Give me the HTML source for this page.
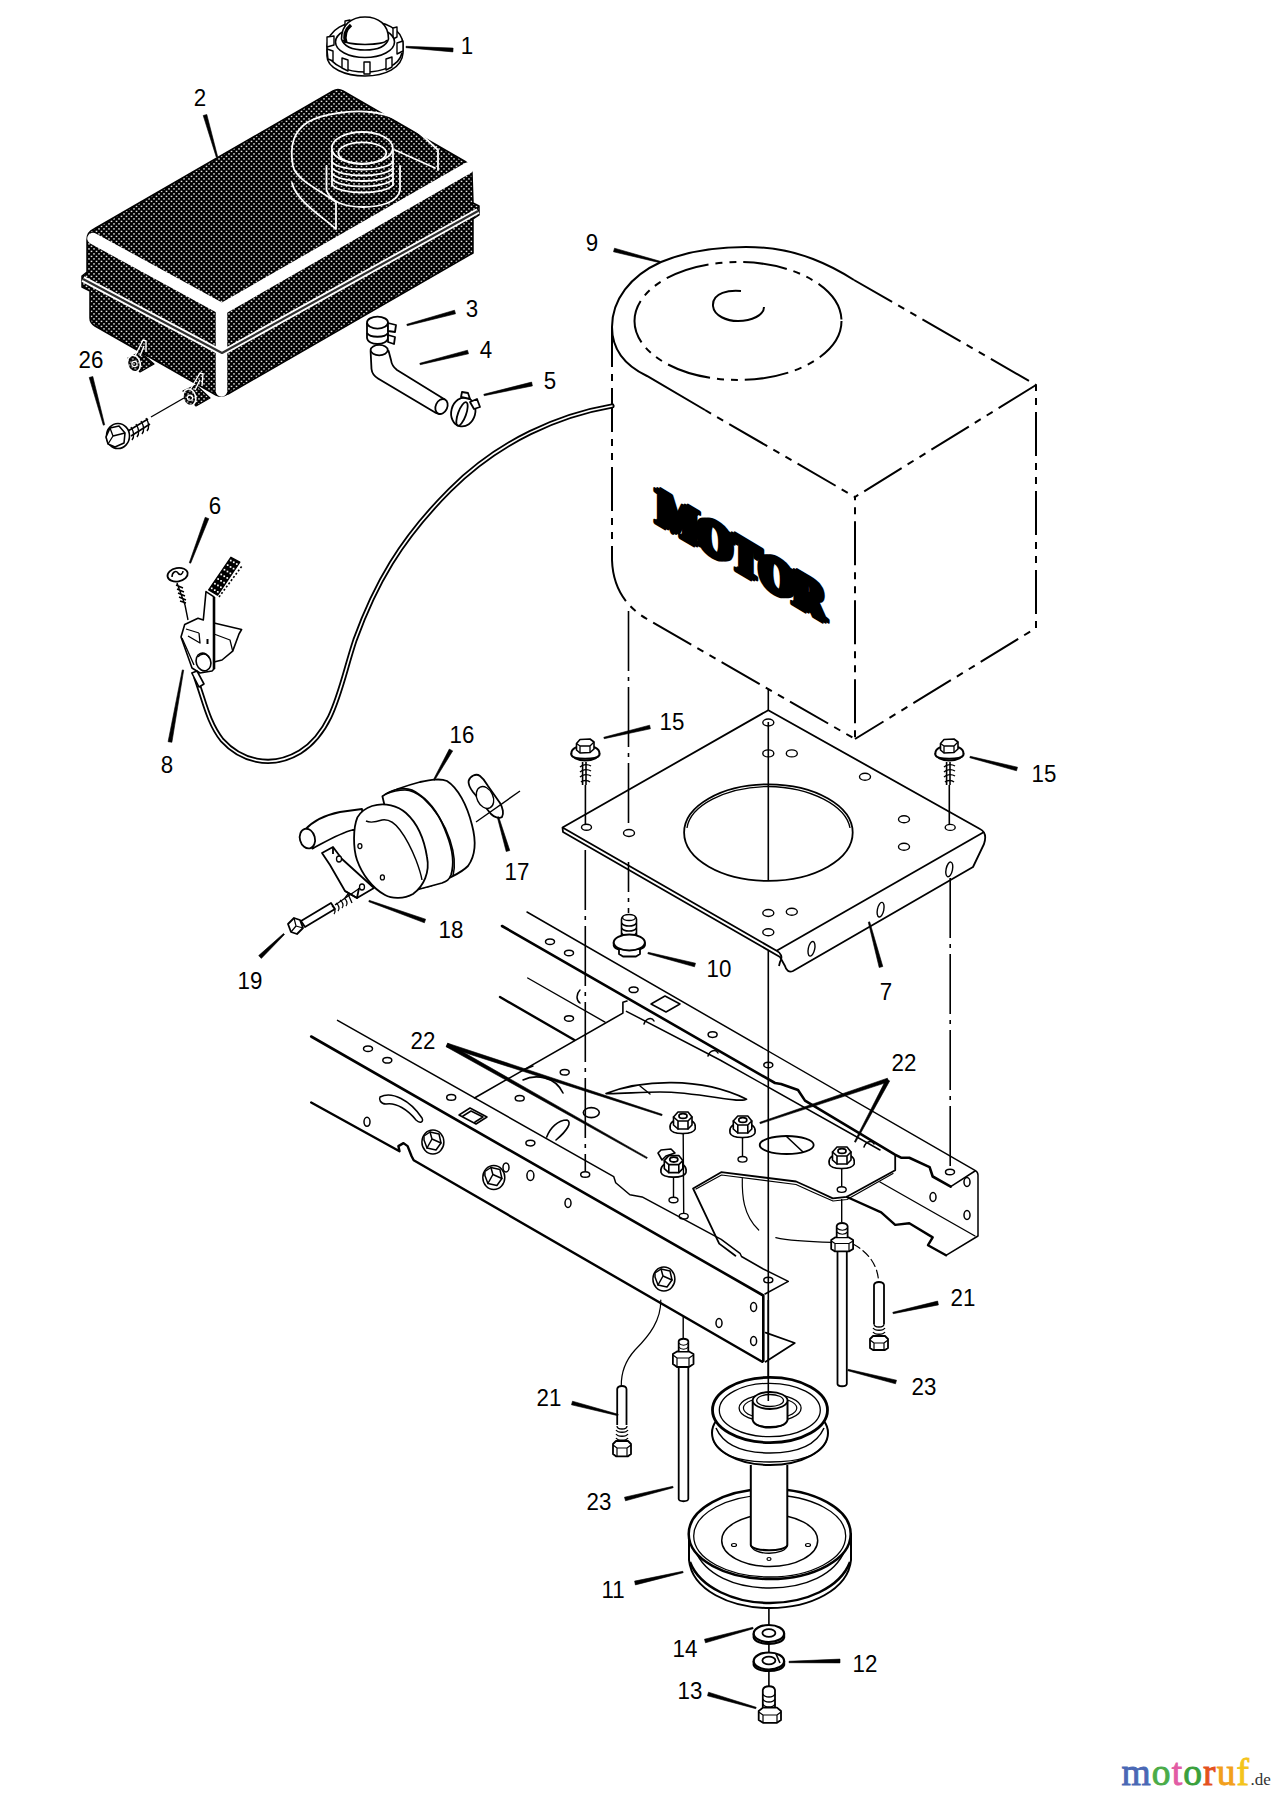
<!DOCTYPE html>
<html><head><meta charset="utf-8">
<style>
html,body{margin:0;padding:0;background:#fff;width:1281px;height:1800px;overflow:hidden}
svg{display:block}
.lb{font-family:"Liberation Sans",sans-serif;font-size:23.5px;fill:#000;text-anchor:middle}
</style></head><body>
<svg width="1281" height="1800" viewBox="0 0 1281 1800">
<rect width="1281" height="1800" fill="#fff"/>
<defs>
<pattern id="ht" width="5" height="5" patternUnits="userSpaceOnUse">
<rect width="5" height="5" fill="#000"/>
<rect x="0.7" y="0.7" width="1.6" height="1.4" fill="#e6e6e6"/>
<rect x="3.2" y="3.2" width="1.6" height="1.4" fill="#e6e6e6"/>
</pattern>
</defs>



<!-- ===== TANK (2) ===== -->
<g id="tank">
<path fill="url(#ht)" stroke="#000" stroke-width="1.5" stroke-linejoin="round" d="M87,240 Q87,232 94,229 L333,91 Q338,88 343,91 L466,162 Q472,166 472,173 L473,203 L479,206 L479,215 L473,219 L473,253 L228,394 Q222,398 216,395 L95,326 Q90,323 90,318 L90,291 L82,287 L82,276 L87,272 Z"/>
<!-- rounded edge highlights -->
<path fill="none" stroke="#fff" stroke-width="11.5" stroke-linejoin="round" stroke-linecap="round" d="M93,238.5 L222,309 L468,168"/>
<path fill="none" stroke="#fff" stroke-width="11.5" stroke-linecap="round" d="M221.5,309 L221.5,391"/>
<!-- seam -->
<path fill="none" stroke="#fff" stroke-width="6" stroke-linejoin="round" d="M83,279 L222,353 L478,211"/>
<path fill="none" stroke="#303030" stroke-width="2.2" stroke-linejoin="round" d="M83,279 L222,353 L478,211"/>
<!-- shroud -->
<g fill="none" stroke="#fff" stroke-width="1.8" stroke-linejoin="round" stroke-linecap="round">
<path d="M335.7,202 C320,190 296,180 293,166 C290,150 292,132 308,122 C322,114 350,110 370,112 C395,114 412,126 425,138 L438,150 L438,170"/>
<path d="M395,150 L435,168"/>
<path d="M292,183 C296,200 320,215 336,229 L336,202"/>
<!-- neck boss -->
<path d="M326.5,166 L326.5,190 C330,202 345,207 363,207 C381,207 398,202 400,190 L400,166"/>
<!-- threads -->
<ellipse cx="362.3" cy="148" rx="30.5" ry="16"/>
<ellipse cx="362.3" cy="153" rx="24" ry="10.6"/>
<path d="M332,150 L332,185 M393,150 L393,185"/>
<path d="M332,162 C340,172 385,172 393,162"/>
<path d="M332,168 C340,178 385,178 393,168"/>
<path d="M332,173.5 C340,183.5 385,183.5 393,173.5"/>
<path d="M332,179 C340,189 385,189 393,179"/>
<path d="M332,185 C340,195 385,195 393,185"/>
</g>
<!-- lugs -->
<g stroke-linejoin="round">
<path fill="url(#ht)" stroke="#000" stroke-width="1.2" d="M128,358 L140,352 L154,364 L140,372 Z"/>
<path fill="none" stroke="#fff" stroke-width="1.4" d="M135,356 L143,340 L146,341 L146,352 M140,356 L144,346"/>
<ellipse cx="133.9" cy="363.6" rx="6.3" ry="8.4" fill="url(#ht)" stroke="#fff" stroke-width="1.6" transform="rotate(-15 133.9 363.6)"/>
<circle cx="134.5" cy="364" r="2.6" fill="url(#ht)" stroke="#fff" stroke-width="1.1"/>
<path fill="url(#ht)" stroke="#000" stroke-width="1.2" d="M183,391 L196,385 L210,398 L196,406 Z"/>
<path fill="none" stroke="#fff" stroke-width="1.4" d="M190,390 L200,373 L203,374 L202,386 M195,390 L200,380"/>
<ellipse cx="189.4" cy="397.3" rx="6.3" ry="8.4" fill="url(#ht)" stroke="#fff" stroke-width="1.6" transform="rotate(-15 189.4 397.3)"/>
<circle cx="190" cy="397.7" r="2.6" fill="url(#ht)" stroke="#fff" stroke-width="1.1"/>
</g>
</g>
</g>

<!-- ===== CAP (1) ===== -->
<g id="cap" fill="#fff" stroke="#000" stroke-width="1.6" stroke-linejoin="round">
<path d="M327,46 C328,29 346,21 365,21 C385,21 402,29 403,44 L403,53 C402,68 385,76 365,76 C345,76 327,68 327,56 Z"/>
<path fill="none" d="M328,53 C331,66 348,72 365,72 C382,72 399,66 402,53"/>
<g stroke-width="1.4">
<path d="M327,37 L334,36 L334,45 L327,47 Z"/>
<path d="M327,49 L333,51 L333,61 L328,59 Z"/>
<path d="M342,58 L348,60 L348,71 L342,68 Z"/>
<path d="M364,62 L370,62 L370,74 L364,74 Z"/>
<path d="M386,59 L392,57 L392,67 L386,70 Z"/>
<path d="M397,43 L403,41 L403,51 L397,54 Z"/>
<path d="M393,28 L397,27 L397,37 L393,39 Z"/>
<path d="M345,21 L350,20 L350,25 L345,26 Z"/>
</g>
<ellipse cx="365" cy="42" rx="29.5" ry="15.5"/>
<path d="M341.5,39 C341.5,24 352,17 365,17 C378,17 388.5,24 388.5,39 C386,47 376,50 365,50 C354,50 344,47 341.5,39 Z"/>
<path fill="none" d="M343,40 C346,46 384,46 387,40"/>
<path fill="none" stroke-width="3.5" d="M351,25 C345,30 344,37 346,43"/>
</g>


<!-- ===== ENGINE (9) ===== -->
<g id="engine" fill="none" stroke="#000" stroke-width="2">
<path d="M612,327 C612,300 630,276 661,262 C690,250 720,247 746,247 C772,247 795,252 813,259 C826,264 840,271 854,280"/>
<path stroke-dasharray="44 7 7 7 7 7" d="M854,280 L1036,385 L1036,628 L855,739"/>
<path stroke-dasharray="44 7 7 7 7 7" d="M1036,385 L855,497 L855,739"/>
<path d="M612,327 C612,350 626,366 647,376 L705,410"/>
<path stroke-dasharray="7 7 7 7 44 7" d="M705,410 L855,497"/>
<path d="M612,327 L612,360"/>
<path stroke-dasharray="7 7 7 7 44 7" d="M612,360 L612,560"/>
<path stroke-dasharray="44 7 7 7 7 7" d="M612,560 C613,590 628,608 647,619 L855,739"/>
<ellipse stroke-dasharray="44 7 7 7 7 7" cx="738" cy="321" rx="103.5" ry="59"/>
<path d="M741,291 C730,290 712,292 713,306 C714,316 727,321 738,321 C752,321 764,315 764,307"/>
</g>
<g id="motor" font-family="Liberation Serif,serif" font-weight="bold" font-size="51" fill="#000" stroke="#000" stroke-width="3.5" stroke-linejoin="round">
<text transform="matrix(0.85,0.505,0,1,654,522)">MOTOR</text>
<text transform="matrix(0.85,0.505,0,1,657,522)">MOTOR</text>
<text transform="matrix(0.85,0.505,0,1,660,522)">MOTOR</text>
</g>


<!-- ===== PLATE (7) ===== -->
<g id="plate" fill="none" stroke="#000" stroke-width="1.8" stroke-linejoin="round">
<path fill="#fff" d="M562.5,827.5 L768.3,710.2 L980,829 C986,832 986,838 984,844 L973,867 L793,971 C789,973 786,970 785,966 L780,957 L563,832 Z"/>
<path d="M562.5,827.5 L776.6,950.8 C781,953 783,957 780,962 L779,966"/>
<path d="M776.6,950.8 L984,832"/>
<ellipse cx="768.4" cy="832.6" rx="84.3" ry="48.3"/>
<path stroke-width="1.3" d="M687,828 C690,806 725,787 768,786.5 C811,787 846,806 850,828"/>
<g stroke-width="1.4">
<ellipse cx="768.3" cy="722.5" rx="5.5" ry="3.5"/>
<ellipse cx="768.3" cy="753.4" rx="5.5" ry="3.5"/>
<ellipse cx="791.8" cy="753.4" rx="5.5" ry="3.5"/>
<ellipse cx="865" cy="776.8" rx="5.5" ry="3.5"/>
<ellipse cx="904" cy="819.2" rx="5.5" ry="3.5"/>
<ellipse cx="904" cy="846.8" rx="5.5" ry="3.5"/>
<ellipse cx="768.3" cy="913" rx="5.5" ry="3.5"/>
<ellipse cx="791.8" cy="911.7" rx="5.5" ry="3.5"/>
<ellipse cx="768.3" cy="932.3" rx="5.5" ry="3.5"/>
<ellipse cx="586.5" cy="827.3" rx="5" ry="3"/>
<ellipse cx="629" cy="833" rx="5.5" ry="3.5"/>
<ellipse cx="950.2" cy="827.4" rx="5" ry="3"/>
<ellipse cx="811.5" cy="948.8" rx="3.2" ry="7.5" transform="rotate(12 811.5 948.8)"/>
<ellipse cx="880.6" cy="909.7" rx="3.2" ry="7.5" transform="rotate(12 880.6 909.7)"/>
<ellipse cx="949.3" cy="869.4" rx="3.2" ry="7.5" transform="rotate(12 949.3 869.4)"/>
</g>
</g>

<!-- centerlines -->
<g id="clines" fill="none" stroke="#000" stroke-width="1.6">
<path stroke-dasharray="60 6 4 6" d="M628.5,611 L628.5,829"/>
<path stroke-dasharray="30 6 4 6" d="M628.5,862 L628.5,913"/>
<path stroke-dasharray="60 6 4 6" d="M768.3,689 L768.3,710"/>
<path d="M768.3,722 L768.3,881"/>
<path d="M768.3,951 L768.3,1400"/>
<path stroke-dasharray="60 6 4 6" d="M585.3,850 L585.3,1171"/>
<path stroke-dasharray="60 6 4 6" d="M950.2,878 L950.2,1168"/>
<path d="M585.4,785 L585.4,824"/>
<path d="M949.3,785 L949.3,824"/>
</g>

<!-- bolts 15 & 10 -->
<g id="bolts15" fill="#fff" stroke="#000" stroke-width="1.6" stroke-linejoin="round">
<g id="b15">
<path fill="none" d="M582.6,762 L582.6,785 M586,762 L586,785"/>
<path fill="none" stroke-width="1.4" d="M580,767 C583,764 588,764 591,766 M580,772 C583,769 588,769 591,771 M580,777 C583,774 588,774 591,776 M581,782 C583,780 588,780 590,782"/>
<ellipse cx="585.4" cy="753" rx="14" ry="7.5" stroke-width="2"/>
<path stroke-width="2" d="M571.4,753 L571.4,755 C573,760 597,760 599.4,755 L599.4,753"/>
<path d="M576.5,743.5 L580,739.5 L590,739 L594,742 L594,749 L590,752.5 L580,753 L576.5,750 Z"/>
<path fill="none" stroke-width="1.3" d="M576.5,743.5 L580,746 L590,746 L594,742 M580,746 L580,753 M590,746 L590,752.5"/>
</g>
<use href="#b15" transform="translate(364,0)"/>
<!-- bolt 10 -->
<path d="M621.5,940 L621.5,919 C622,914 636,914 636.5,919 L636.5,940 Z"/>
<path fill="none" stroke-width="1.5" d="M621.5,923 C624,927 634,927 636.5,923 M621.5,928 C624,932 634,932 636.5,928 M621.5,933 C624,937 634,937 636.5,933 M621.5,938 C624,942 634,942 636.5,938"/>
<ellipse cx="629" cy="917.5" rx="6.5" ry="3" stroke-width="1.4"/>
<path stroke-width="1.8" d="M613.7,942.5 L613.7,945.5 C615,952 643,952 644.9,945.5 L644.9,942.5"/>
<path stroke-width="1.8" d="M619,950 L619,954 L623,956.5 L636,956.5 L640,954 L640,950"/>
<ellipse cx="629.3" cy="942.5" rx="15.6" ry="8" stroke-width="2"/>
</g>


<!-- ===== FRAME ===== -->
<g id="frame" fill="none" stroke="#000" stroke-linejoin="round" stroke-linecap="round">
<!-- back rail -->
<path stroke-width="1.5" d="M527,912 L975,1170.3 C977,1171.5 978,1173 978,1175 L978,1236 L946,1255.3"/>
<path stroke-width="1.5" d="M975,1171 L950.7,1186.7"/>
<path stroke-width="2.6" d="M502,926 L775,1083 L781,1084 L798,1090 L805,1100.6 L895,1154.6 L901.5,1157.8 L909.3,1157.8 L929.6,1167.1 L932.7,1176.5 L950.7,1186.7"/>
<path stroke-width="1.4" d="M527.7,978 L605,1022.1"/>
<path stroke-width="2.4" d="M500,997 L574.4,1040"/>
<path stroke-width="1.4" d="M880,1182 L975,1236"/>
<path stroke-width="2.4" d="M847,1197 L881.2,1212.4 L895.2,1224.9 L909.3,1223.3 L932.7,1237.4 L928,1245.2 L946,1255.3"/>
<!-- mid plate -->
<path stroke-width="1.6" d="M474.5,1098 L622.9,1013.1 L622.9,1002.3 L627,1001"/>
<path stroke-width="1.5" d="M626.4,1011.3 L720,1060 L880,1150"/>
<path stroke-width="1.6" d="M606,1093.6 C640,1080 700,1076 746.6,1099.2 C740,1104 700,1092 660,1092 C640,1092 620,1094 606,1093.6 Z"/>
<path stroke-width="1.4" d="M640,1086 L650,1094"/>
<ellipse stroke-width="1.6" cx="591.3" cy="1112.6" rx="8" ry="5"/>
<path stroke-width="1.6" d="M523,1080 C535,1074 555,1076 563,1093 M546.7,1137 C550,1128 558,1120 567,1120 C572,1122 568,1130 556,1140"/>
<path stroke-width="1.4" d="M523,1070 L533,1066"/>
<!-- front rail -->
<path stroke-width="1.5" d="M337.5,1020.3 L613.7,1176.6 L615.7,1182.7 L629.9,1194.8 L642.1,1196.9 L721.2,1239.3 L740,1253.3 L741.5,1256.5 L763.3,1269 L788.3,1281.4 L765,1294"/>
<path stroke-width="2.6" d="M311.2,1036.5 L763.3,1295.5 L763.3,1361"/>
<path stroke-width="2.4" d="M311.2,1102.5 L399.5,1151.2 L398.4,1146.1 L403.5,1143.1 L407.6,1146.1 L411.6,1156.3 L413.7,1160.3 L762.2,1361.8"/>
<path stroke-width="1.8" d="M765.6,1332.6 L794.8,1343 L765.6,1361.8"/>
<!-- front rail holes -->
<g stroke-width="1.5">
<ellipse cx="368" cy="1048.7" rx="4.5" ry="2.8"/>
<ellipse cx="387.3" cy="1060.3" rx="4.5" ry="2.8"/>
<ellipse cx="451.2" cy="1097.4" rx="4.5" ry="2.8"/>
<ellipse cx="530.4" cy="1143.1" rx="4.5" ry="2.8"/>
<ellipse cx="367" cy="1121.8" rx="3" ry="4.5"/>
<ellipse cx="506" cy="1167.4" rx="3" ry="4.5"/>
<ellipse cx="530.4" cy="1175.6" rx="3.5" ry="5"/>
<ellipse cx="568" cy="1203" rx="3" ry="4.5"/>
<ellipse cx="719" cy="1323" rx="3" ry="4.5"/>
<ellipse cx="753.6" cy="1307" rx="3" ry="4.5"/>
<ellipse cx="753.6" cy="1341" rx="3" ry="4.5"/>
<path d="M380,1097 C392,1091 410,1100 422,1118 C424,1122 420,1124 416,1120 C408,1110 396,1102 386,1104 C380,1104 379,1099 380,1097 Z"/>
<path d="M459,1115 L470,1108 L487,1117 L476,1124 Z M463,1116 L471,1111 L483,1117 L475,1122"/>
<!-- back rail holes -->
<ellipse cx="550" cy="941.7" rx="4.5" ry="2.8"/>
<ellipse cx="569" cy="953" rx="4.5" ry="2.8"/>
<ellipse cx="633.6" cy="989.8" rx="4.5" ry="2.8"/>
<ellipse cx="712.6" cy="1034.6" rx="4.5" ry="2.8"/>
<ellipse cx="569" cy="1018.5" rx="4.5" ry="2.8"/>
<ellipse cx="519.7" cy="1098.3" rx="4.5" ry="2.8"/>
<ellipse cx="564.7" cy="1072.3" rx="4.5" ry="2.8"/>
<path d="M580,990 C576,994 576,1000 580,1003"/>
<path d="M651,1004 L665,996 L680,1004 L666,1012 Z"/>
<ellipse cx="768.3" cy="1065" rx="4.5" ry="2.8"/>
<ellipse cx="950" cy="1172" rx="4.5" ry="2.8"/>
<ellipse cx="933" cy="1197" rx="3" ry="4.5"/>
<ellipse cx="967" cy="1215" rx="3" ry="4.5"/>
<ellipse cx="967" cy="1182" rx="3" ry="4.5"/>
<ellipse cx="585.2" cy="1174.5" rx="4.5" ry="2.8"/>
<ellipse cx="768.3" cy="1280" rx="4.5" ry="2.8"/>
<!-- small curls on plate edge -->
<path d="M644,1024 C646,1018 652,1017 654,1021 M708,1056 C710,1050 716,1049 718,1053 M864,1147 C866,1141 872,1140 874,1144"/>
</g>
<!-- front rail bolts -->
<g id="rbolt" stroke-width="1.5" fill="#fff">
<ellipse cx="432.9" cy="1142.1" rx="11" ry="12"/>
<path d="M424,1136 L430,1132 L439,1134 L441,1143 L436,1150 L427,1148 L424,1140 Z"/>
<path fill="none" d="M430,1132 L432,1139 L441,1143 M432,1139 L427,1148"/>
</g>
<use href="#rbolt" transform="translate(60.9,35.5)"/>
<use href="#rbolt" transform="translate(231,137)"/>
<!-- bracket -->
<path stroke-width="1.8" d="M735.4,1255.7 L719.2,1243.6 L693.1,1188.5 L721.2,1172.2 L796.1,1181.5 L813.3,1189.3 L832.8,1198.4 L846.8,1196.8 L895.2,1170.3 L895.2,1155.4"/>
<path stroke-width="1.2" d="M696,1189 L721.5,1175 L796,1184.5 L813,1192.3 L833,1201 L847,1199.5 L893,1173.5"/>
<ellipse stroke-width="1.8" cx="786.7" cy="1145" rx="27" ry="9"/>
<path stroke-width="1.6" d="M786,1136 L803,1152"/>
<path stroke-width="1.2" d="M742.3,1178.4 C742,1195 743,1215 758.7,1230"/>
<path stroke-width="1.2" d="M775.8,1237.7 C790,1241 815,1242 832,1242.4"/>
<path stroke-width="1.2" stroke-dasharray="8 4" d="M853,1244 C868,1252 878,1265 878.6,1282"/>
<path stroke-width="1.2" d="M660.8,1300 C661,1320 650,1335 635,1350 C626,1360 621,1372 621.3,1386"/>
<!-- nuts 22 -->
<path stroke-width="1.6" fill="#fff" d="M658,1153 L661,1150 L671,1149 L675,1153 L666,1156 L662,1160 Z"/>

<g id="nut22" stroke-width="1.6" fill="#fff">
<ellipse cx="682.7" cy="1126" rx="12.5" ry="7.5"/>
<path d="M670.2,1126 L670.2,1129 C672,1135 693,1135 695.2,1129 L695.2,1126"/>
<path d="M673.5,1117 L678,1112 L688,1112 L692,1117 L692,1125 L688,1129 L678,1129 L673.5,1125 Z"/>
<path fill="none" d="M673.5,1117 L678,1121 L688,1121 L692,1117 M678,1121 L678,1129 M688,1121 L688,1129"/>
<ellipse cx="683" cy="1116" rx="4" ry="2.4" fill="#fff" stroke-width="1.8"/>
</g>
<use href="#nut22" transform="translate(-9.2,43.6)"/>
<use href="#nut22" transform="translate(59.8,4)"/>
<use href="#nut22" transform="translate(159,35)"/>
<path stroke-width="1.4" d="M683.2,1134 L683.7,1213 M673.5,1178 L673.5,1197 M742.5,1138 L742.5,1156 M841.7,1169 L841.7,1186"/>
<g stroke-width="1.4">
<ellipse cx="683.7" cy="1216.2" rx="4.5" ry="2.8"/>
<ellipse cx="673.5" cy="1200" rx="4.5" ry="2.8"/>
<ellipse cx="742.5" cy="1159.3" rx="4.5" ry="2.8"/>
<ellipse cx="841.7" cy="1189.6" rx="4.5" ry="2.8"/>
</g>
</g>


<!-- ===== RODS / BOLTS 21,23 ===== -->
<g id="rods" fill="#fff" stroke="#000" stroke-width="1.8" stroke-linejoin="round">
<!-- rod 23 right -->
<path d="M837.5,1251 L837.5,1384 C838,1387 846,1387 846.8,1384 L846.8,1251"/>
<path d="M831.2,1240 L835,1237.4 L849,1237.4 L853.1,1240 L853.1,1249 L849,1251.4 L835,1251.4 L831.2,1249 Z"/>
<path fill="none" stroke-width="1.2" d="M831.2,1241 L835,1243.5 L849,1243.5 L853.1,1241 M835,1243.5 L835,1251.4 M849,1243.5 L849,1251.4"/>
<path d="M836.7,1237 L836.7,1226 C838,1222 846,1222 847.6,1226 L847.6,1237"/>
<path fill="none" stroke-width="1.2" d="M836.7,1228 C840,1231 845,1231 847.6,1228 M836.7,1232 C840,1235 845,1235 847.6,1232"/>
<path fill="none" stroke-width="1.4" d="M841.7,1199 L841.7,1222"/>
<!-- rod 23 left -->
<path d="M678.7,1367 L678.7,1499 C679,1502 688,1502 688.3,1499 L688.3,1367"/>
<path d="M672.9,1354 L677,1351.5 L689,1351.5 L693.5,1354 L693.5,1364 L689,1367 L677,1367 L672.9,1364 Z"/>
<path fill="none" stroke-width="1.2" d="M672.9,1355 L677,1358 L689,1358 L693.5,1355 M677,1358 L677,1367 M689,1358 L689,1367"/>
<path d="M678.7,1351 L678.7,1341 C680,1338 687,1338 688.3,1341 L688.3,1351"/>
<path fill="none" stroke-width="1.2" d="M678.7,1343 C681,1346 686,1346 688.3,1343 M678.7,1347 C681,1350 686,1350 688.3,1347"/>
<path fill="none" stroke-width="1.4" d="M683.2,1317 L683.2,1339"/>
<!-- bolt 21 right -->
<path d="M874,1324 L874,1285 C875,1281 883,1281 884,1285 L884,1324"/>
<path d="M870,1339 L873,1336 L885,1336 L888,1339 L888,1348 L885,1350 L873,1350 L870,1348 Z"/>
<path fill="none" stroke-width="1.2" d="M870,1340 L874,1343 L884,1343 L888,1340 M874,1343 L874,1350 M884,1343 L884,1350"/>
<path fill="none" stroke-width="1.3" d="M874,1324 C874,1328 884,1328 884,1324 M873,1328 C875,1331 883,1331 885,1328 M873,1332 C875,1335 883,1335 885,1332"/>
<!-- bolt 21 left -->
<path d="M617.2,1425 L617.2,1389 C618,1385 626,1385 626.5,1389 L626.5,1425"/>
<path d="M613,1444 L616,1441 L628,1441 L631,1444 L631,1454 L628,1456.3 L616,1456.3 L613,1454 Z"/>
<path fill="none" stroke-width="1.2" d="M613,1445 L617,1448 L627,1448 L631,1445 M617,1448 L617,1456 M627,1448 L627,1456"/>
<path fill="none" stroke-width="1.3" d="M617,1426 C617,1430 627,1430 627,1426 M616,1430 C618,1433 626,1433 628,1430 M616,1434 C618,1437 626,1437 628,1434 M616,1438 C618,1441 626,1441 628,1438"/>
</g>

<!-- ===== PULLEYS (11) ===== -->
<g id="pulleys" fill="#fff" stroke="#000" stroke-width="2" stroke-linejoin="round">
<!-- lower pulley -->
<path d="M689,1534 L689,1560 C692,1590 730,1608 770,1608 C810,1608 848,1590 851,1560 L851,1534 Z"/>
<path fill="none" stroke-width="2.5" d="M690,1562 C700,1588 735,1603 770,1603 C805,1603 840,1588 850,1562"/>
<path fill="none" stroke-width="1.5" d="M695,1550 C705,1575 735,1588 770,1588 C805,1588 835,1575 845,1550"/>
<ellipse cx="769.7" cy="1534" rx="81" ry="45" stroke-width="2.5"/>
<ellipse cx="769.7" cy="1536" rx="76" ry="41" stroke-width="1.3"/>
<ellipse cx="769.7" cy="1540.5" rx="48" ry="26" stroke-width="1.5"/>
<ellipse cx="734" cy="1545" rx="2.5" ry="1.5" stroke-width="1.2"/>
<ellipse cx="808" cy="1545" rx="2.5" ry="1.5" stroke-width="1.2"/>
<!-- shaft -->
<path d="M750.8,1465 L750.8,1545 C752,1552 786,1552 787.3,1545 L787.3,1465"/>
<path fill="none" stroke-width="1.4" d="M751,1545 C752,1556 786,1556 787.5,1545"/>
<ellipse cx="769" cy="1559" rx="2" ry="1.5" stroke-width="1.2"/>
<!-- upper pulley -->
<ellipse cx="770" cy="1433" rx="58" ry="32"/>
<path fill="none" stroke-width="1.4" d="M714,1442 C722,1458 745,1462 770,1462 C795,1462 818,1458 826,1442"/>
<path fill="none" stroke-width="1.5" d="M716,1428 C724,1446 745,1453 770,1453 C795,1453 816,1446 824,1428"/>
<ellipse cx="770" cy="1410" rx="57.5" ry="32.6" stroke-width="2.8"/>
<ellipse cx="769.8" cy="1410" rx="50.5" ry="26.7" stroke-width="1.3"/>
<ellipse cx="770.1" cy="1408" rx="31" ry="13.7" stroke-width="1.3"/>
<ellipse cx="770.1" cy="1408" rx="26.7" ry="10.7" stroke-width="1.2"/>
<path d="M752.7,1400.5 L752.7,1420 C755,1430 785,1430 787.5,1420 L787.5,1400.5"/>
<path fill="none" stroke-width="1.3" d="M754,1423 C758,1428 782,1428 786,1423"/>
<ellipse cx="770.1" cy="1400.5" rx="17.4" ry="8.5" stroke-width="1.8"/>
<ellipse cx="770.1" cy="1400.5" rx="13.4" ry="6" stroke-width="1.3"/>
<path fill="none" stroke-width="1.6" d="M768.3,1300 L768.3,1401"/>
</g>

<!-- ===== WASHERS / BOLT 13 ===== -->
<g id="washers" fill="#fff" stroke="#000" stroke-width="2.2" stroke-linejoin="round">
<path fill="none" stroke-width="1.6" d="M768.9,1608 L768.9,1626 M768.9,1643 L768.9,1654 M768.9,1670 L768.9,1687"/>
<path d="M753.7,1633.5 L753.7,1637.5 C756,1646 782,1646 784.1,1637.5 L784.1,1633.5"/>
<ellipse cx="768.9" cy="1633.5" rx="15.2" ry="8.5"/>
<ellipse cx="768.9" cy="1633" rx="6.5" ry="3.8" stroke-width="1.8"/>
<path d="M753.7,1661 L753.7,1665 C756,1673 782,1673 784.1,1665 L784.1,1661"/>
<ellipse cx="768.9" cy="1661" rx="15.2" ry="8.5"/>
<ellipse cx="768.9" cy="1660.5" rx="6.5" ry="3.8" stroke-width="1.8"/>
<path fill="none" stroke-width="1.6" d="M776,1654 L780,1663"/>
<path stroke-width="1.8" d="M762.8,1712 L762.8,1690 C764,1685 774,1685 775,1690 L775,1712"/>
<path fill="none" stroke-width="1.5" d="M762.8,1694 C765,1698 773,1698 775,1694 M762.8,1699 C765,1703 773,1703 775,1699 M762.8,1704 C765,1708 773,1708 775,1704 M762.8,1709 C765,1713 773,1713 775,1709"/>
<path stroke-width="1.8" d="M758.7,1711 L763,1707.6 L777,1707.6 L781,1711 L781,1720 L777,1722.8 L763,1722.8 L758.7,1720 Z"/>
<path fill="none" stroke-width="1.2" d="M758.7,1712 L763,1715 L777,1715 L781,1712 M763,1715 L763,1722.8 M777,1715 L777,1722.8"/>
</g>


<!-- ===== CABLE ===== -->
<g id="cable" fill="none" stroke-linecap="round">
<path stroke="#000" stroke-width="5.2" d="M612,406 C560,415 500,440 450,490 C400,540 375,585 355,640 C340,685 335,730 300,752 C270,770 240,760 222,740 C210,725 205,705 200,690 L196,678"/>
<path stroke="#fff" stroke-width="1.6" d="M612,406 C560,415 500,440 450,490 C400,540 375,585 355,640 C340,685 335,730 300,752 C270,770 240,760 222,740 C210,725 205,705 200,690 L196,678"/>
</g>

<!-- ===== THROTTLE (6,8) ===== -->
<g id="throttle" fill="#fff" stroke="#000" stroke-width="1.6" stroke-linejoin="round">
<!-- right wing -->
<path d="M214,623 L241.6,629.5 L239,634 L232.7,651.1 L222,660 L214,662 Z"/>
<path fill="none" stroke-width="1.3" d="M214,634 L230,640 L232.7,651.1"/>
<!-- lower body -->
<path d="M181,637 L184.7,624.4 L198,618.2 L203.3,620 L206,591.6 L214,596.9 L214,669 L212,671 L200,673 L192,668 Z"/>
<path fill="none" stroke-width="2.6" d="M214,597 L214,669"/>
<path fill="none" stroke-width="1.3" d="M186,629 L199,633 M199,633 L200,643 L188,636 M182,638 L194,665"/>
<path fill="#000" stroke="none" d="M206.5,639 L208.5,639 L208.5,644 L206.5,644 Z"/>
<ellipse cx="203.5" cy="662" rx="7.2" ry="9" transform="rotate(-20 203.5 662)"/>
<path fill="none" stroke-width="1.2" d="M198,657 C201,653 207,653 209,658"/>
<!-- cable fitting -->
<path d="M191.8,673 L197,671 L204,684 L199,687 Z"/>
<!-- grip -->
<path fill="#000" stroke-width="1.4" d="M208.7,589.8 L230.9,557.3 L239.8,562.2 L217.6,595.1 Z"/>
<g fill="#fff" stroke="none"><rect x="210.9" y="587.5" width="1.7" height="1.7"/><rect x="213.9" y="589.3" width="1.7" height="1.7"/><rect x="216.9" y="591.0" width="1.7" height="1.7"/><rect x="214.1" y="582.9" width="1.7" height="1.7"/><rect x="217.1" y="584.6" width="1.7" height="1.7"/><rect x="220.0" y="586.4" width="1.7" height="1.7"/><rect x="217.3" y="578.2" width="1.7" height="1.7"/><rect x="220.2" y="580.0" width="1.7" height="1.7"/><rect x="223.2" y="581.8" width="1.7" height="1.7"/><rect x="220.4" y="573.6" width="1.7" height="1.7"/><rect x="223.4" y="575.4" width="1.7" height="1.7"/><rect x="226.4" y="577.1" width="1.7" height="1.7"/><rect x="223.6" y="568.9" width="1.7" height="1.7"/><rect x="226.6" y="570.7" width="1.7" height="1.7"/><rect x="229.5" y="572.5" width="1.7" height="1.7"/><rect x="226.8" y="564.3" width="1.7" height="1.7"/><rect x="229.7" y="566.1" width="1.7" height="1.7"/><rect x="232.7" y="567.8" width="1.7" height="1.7"/><rect x="229.9" y="559.7" width="1.7" height="1.7"/><rect x="232.9" y="561.4" width="1.7" height="1.7"/><rect x="235.9" y="563.2" width="1.7" height="1.7"/></g>
<path fill="none" stroke-width="1.6" stroke-dasharray="2 2" d="M219,597 L242,566"/>
<!-- screw 6 -->
<ellipse cx="177.6" cy="574.7" rx="10.2" ry="6.7" transform="rotate(-10 177.6 574.7)" stroke-width="1.8"/>
<path fill="none" stroke-width="1.5" d="M172,577 C172,572 176,570 178,573 C180,576 183,574 183,571"/>
<path fill="none" stroke-width="1.4" d="M176,585 L183,588 M177,589 L184,592 M178,593 L185,596 M179,597 L186,600 M180,601 L186,603 M177,583 L185,605 L188,620"/>
</g>

<!-- ===== HOSE / CLAMPS (3,4,5) ===== -->
<g id="hose" fill="#fff" stroke="#000" stroke-width="1.8" stroke-linejoin="round">
<!-- hose 4 -->
<path d="M370.6,351 L371.5,369 C372,374 374,376 378,378.5 L436,413 C441,415 448,410 447,404 C446,401 445,400 444,399 L397,370 C393,367 391.5,364 391,360 L388.6,351 Z"/>
<ellipse cx="379.2" cy="350.1" rx="8.6" ry="5.2"/>
<ellipse cx="441.5" cy="406.5" rx="5.8" ry="7.8" transform="rotate(25 441.5 406.5)"/>
<!-- clamp 3 -->
<path d="M367,323 L367,338 C368,346 387,346 388,338 L388,323"/>
<ellipse cx="377.5" cy="322.6" rx="10.5" ry="6"/>
<path fill="none" d="M367,333 C370,338 385,338 388,333"/>
<path d="M388,323 L396,325 L395,332 L388,331 Z M388,335 L395,337 L394,344 L388,342 Z"/>
<!-- clamp 5 -->
<ellipse cx="463.3" cy="412" rx="12" ry="14.6" transform="rotate(15 463.3 412)"/>
<ellipse cx="462" cy="414" rx="4" ry="12.5" transform="rotate(20 462 414)" fill="none"/>
<path d="M461,397 L462,392 L468,393 L470,399 Z M470,402 L477,399 L480,407 L474,409 Z"/>
</g>

<!-- ===== BOLT 26 ===== -->
<g id="bolt26" fill="#fff" stroke="#000" stroke-width="1.6" stroke-linejoin="round">
<path fill="none" stroke-width="1.4" d="M151,417 L184,398"/>
<path fill="none" stroke-width="1.6" d="M128,431 L148,419 M131,436 L150,424"/>
<path fill="none" stroke-width="1.4" d="M131,427 C134,432 135,436 132,440 M136,424 C139,429 140,433 137,437 M141,421 C144,426 145,430 142,434 M146,418 C149,423 150,427 147,431"/>
<ellipse cx="118" cy="436" rx="11.5" ry="12.5"/>
<path d="M106,437 L110,428 L119,426 L125,433 L124,443 L115,447 L108,444 Z"/>
<path fill="none" stroke-width="1.3" d="M110,428 L113,436 L125,433 M113,436 L108,444"/>
</g>

<!-- ===== MUFFLER (16,17,18,19) ===== -->
<g id="muffler" fill="#fff" stroke="#000" stroke-width="1.8" stroke-linejoin="round">
<!-- pipe -->
<path d="M304.9,829.9 C312,822 325,815 340,812 L362,809 L364,830 L352.4,830 C340,833 325,842 312.4,848.6 Z"/>
<ellipse cx="307.4" cy="838.6" rx="7.5" ry="10" transform="rotate(-15 307.4 838.6)"/>
<!-- back body -->
<path d="M384.9,794.9 C395,789 405,786 420,782 C430,780 440,778 447,781 C458,788 467,805 472,825 C476,840 476,855 468,866 C460,874 445,880 429.9,886.1 L400,892 Z"/>
<!-- ring band -->
<path d="M382.4,796.2 C390,791 396,789 402.4,788.7 C410,788 415,791 419.9,794.9 C430,802 440,815 447,835 C452,848 455,862 451,875 C449,880 447,881 442,883 L405,893 Z"/>
<path fill="none" stroke-width="1.5" d="M386,794 C393,791 399,790 405,790 C412,790 418,794 423,798 C434,808 444,822 450,840 C454,852 456,864 453,876"/>
<!-- front face -->
<path d="M357.4,817.4 C361,811 366,808 372,806 C385,802 398,806 406,813 C416,822 424,838 427,857 C430,872 424,886 413,894 C404,899 392,899 385,895 C372,888 362,874 357,860 C353,848 353,828 357.4,817.4 Z"/>
<path fill="none" stroke-width="1.4" d="M366,821 C370,823 376,822 382,820 C388,819 394,822 400,830 C406,838 412,850 416,860 C419,868 421,874 422,880"/>
<ellipse cx="359.9" cy="846.1" rx="2" ry="2.5" stroke-width="1.3"/>
<ellipse cx="382.4" cy="877.4" rx="2" ry="2.5" stroke-width="1.3"/>
<!-- bracket 18 -->
<path d="M322,853 L333,847 L342,859 L374,888 L357,898 L345,891 L330,865 Z"/>
<path fill="none" d="M333,847 L333,854 M345,891 L357,898 L359,888"/>
<ellipse cx="339" cy="859" rx="2.5" ry="3" stroke-width="1.3"/>
<ellipse cx="362" cy="887" rx="2.5" ry="3" stroke-width="1.3"/>
<path fill="none" stroke-width="1.3" d="M345,898 L348,894 L352,903"/>
<!-- bolt 19 -->
<path fill="none" stroke-width="1.4" d="M335,905 L360,888"/>
<path d="M301,921 L331,903 L335,909 L305,927 Z"/>
<path fill="none" stroke-width="1.3" d="M332,906 C335,908 336,912 334,914 M336,903 C339,905 340,909 338,911 M340,900 C343,902 344,906 342,908 M344,898 C347,900 348,904 346,906"/>
<path d="M288,924 L294,918 L300,920 L303,928 L297,934 L291,932 Z"/>
<path fill="none" stroke-width="1.2" d="M294,918 L296,926 L303,928 M296,926 L291,932"/>
<!-- gasket 17 -->
<path d="M468.6,781 C470,776 476,773 480,776 C484,779 486,783 488,786 L500,803 C503,808 504,814 502,817 C499,819 494,817 491,814 L473,792 C470,788 468,785 468.6,781 Z"/>
<ellipse cx="485" cy="797.5" rx="8" ry="11.5" transform="rotate(-25 485 797.5)" stroke-width="1.4"/>
<path fill="none" stroke-width="1.4" d="M476,822 L520,791"/>
</g>

<!-- ===== LOGO ===== -->
<g id="logo" font-family="Liberation Serif,serif">
<text x="1121.5" y="1785" font-size="37.5" letter-spacing="1.1" stroke-width="0.9"><tspan fill="#4a68b5" stroke="#4a68b5">m</tspan><tspan fill="#4aac48" stroke="#4aac48">o</tspan><tspan fill="#e25ca4" stroke="#e25ca4">t</tspan><tspan fill="#3aa03c" stroke="#3aa03c">o</tspan><tspan fill="#e4521e" stroke="#e4521e">r</tspan><tspan fill="#f2a01c" stroke="#f2a01c">u</tspan><tspan fill="#f4c41c" stroke="#f4c41c">f</tspan></text>
<text x="1250.5" y="1785" font-size="17" fill="#333">.de</text>
</g>

<!-- ===== LABELS ===== -->
<g id="labels">
<text class="lb" transform="translate(467,54.3) scale(0.95,1)">1</text>
<text class="lb" transform="translate(200,106.3) scale(0.95,1)">2</text>
<text class="lb" transform="translate(472,317.3) scale(0.95,1)">3</text>
<text class="lb" transform="translate(486,358.3) scale(0.95,1)">4</text>
<text class="lb" transform="translate(550,389.3) scale(0.95,1)">5</text>
<text class="lb" transform="translate(91,368.3) scale(0.95,1)">26</text>
<text class="lb" transform="translate(215,514.3) scale(0.95,1)">6</text>
<text class="lb" transform="translate(167,773.3) scale(0.95,1)">8</text>
<text class="lb" transform="translate(592,251.3) scale(0.95,1)">9</text>
<text class="lb" transform="translate(672,730.3) scale(0.95,1)">15</text>
<text class="lb" transform="translate(1044,782.3) scale(0.95,1)">15</text>
<text class="lb" transform="translate(462,743.3) scale(0.95,1)">16</text>
<text class="lb" transform="translate(517,880.3) scale(0.95,1)">17</text>
<text class="lb" transform="translate(451,938.3) scale(0.95,1)">18</text>
<text class="lb" transform="translate(250,989.3) scale(0.95,1)">19</text>
<text class="lb" transform="translate(719,977.3) scale(0.95,1)">10</text>
<text class="lb" transform="translate(886,1000.3) scale(0.95,1)">7</text>
<text class="lb" transform="translate(423,1049.3) scale(0.95,1)">22</text>
<text class="lb" transform="translate(904,1071.3) scale(0.95,1)">22</text>
<text class="lb" transform="translate(963,1306.3) scale(0.95,1)">21</text>
<text class="lb" transform="translate(549,1406.3) scale(0.95,1)">21</text>
<text class="lb" transform="translate(599,1510.3) scale(0.95,1)">23</text>
<text class="lb" transform="translate(924,1395.3) scale(0.95,1)">23</text>
<text class="lb" transform="translate(613,1598.3) scale(0.95,1)">11</text>
<text class="lb" transform="translate(685,1657.3) scale(0.95,1)">14</text>
<text class="lb" transform="translate(865,1672.3) scale(0.95,1)">12</text>
<text class="lb" transform="translate(690,1699.3) scale(0.95,1)">13</text>
</g>

<!-- ===== LEADERS ===== -->
<g id="leaders" fill="#000" stroke="#000" stroke-width="0.6" stroke-linejoin="round">
<path d="M453.1,48.1 L406.0,46.3 L406.0,47.7 L452.9,51.9 Z"/>
<path d="M203.2,115.5 L216.3,157.2 L217.7,156.8 L206.8,114.5 Z"/>
<path d="M454.5,310.2 L406.8,324.3 L407.2,325.7 L455.5,313.8 Z"/>
<path d="M467.5,350.2 L419.8,363.3 L420.2,364.7 L468.5,353.8 Z"/>
<path d="M531.6,382.1 L483.8,394.3 L484.2,395.7 L532.4,385.9 Z"/>
<path d="M89.2,377.5 L103.3,425.2 L104.7,424.8 L92.8,376.5 Z"/>
<path d="M205.2,517.3 L189.3,562.8 L190.7,563.2 L208.8,518.7 Z"/>
<path d="M171.9,742.3 L183.7,670.1 L182.3,669.9 L168.1,741.7 Z"/>
<path d="M613.5,251.8 L659.8,262.7 L660.2,261.3 L614.5,248.2 Z"/>
<path d="M649.6,725.2 L603.8,737.3 L604.2,738.7 L650.4,728.8 Z"/>
<path d="M1017.5,767.2 L970.2,756.3 L969.8,757.7 L1016.5,770.8 Z"/>
<path d="M449.3,749.1 L433.4,779.7 L434.6,780.3 L452.7,750.9 Z"/>
<path d="M509.8,850.5 L498.7,816.8 L497.3,817.2 L506.2,851.5 Z"/>
<path d="M425.6,919.2 L369.2,900.3 L368.8,901.7 L424.4,922.8 Z"/>
<path d="M261.3,958.4 L284.5,934.5 L283.5,933.5 L258.7,955.6 Z"/>
<path d="M695.5,963.2 L648.2,952.3 L647.8,953.7 L694.5,966.8 Z"/>
<path d="M882.8,966.5 L869.7,921.8 L868.3,922.2 L879.2,967.5 Z"/>
<path d="M446.4,1046.8 L661.8,1115.7 L662.2,1114.3 L447.6,1043.2 Z"/>
<path d="M446.1,1046.7 L646.7,1158.6 L647.3,1157.4 L447.9,1043.3 Z"/>
<path d="M887.4,1078.2 L759.8,1122.3 L760.2,1123.7 L888.6,1081.8 Z"/>
<path d="M886.3,1079.1 L854.4,1141.7 L855.6,1142.3 L889.7,1080.9 Z"/>
<path d="M571.5,1404.8 L617.8,1415.7 L618.2,1414.3 L572.5,1401.2 Z"/>
<path d="M625.5,1500.8 L673.2,1487.7 L672.8,1486.3 L624.5,1497.2 Z"/>
<path d="M937.6,1301.1 L892.8,1312.3 L893.2,1313.7 L938.4,1304.9 Z"/>
<path d="M896.5,1380.2 L848.2,1369.3 L847.8,1370.7 L895.5,1383.8 Z"/>
<path d="M635.4,1584.9 L683.2,1572.7 L682.8,1571.3 L634.6,1581.1 Z"/>
<path d="M705.5,1642.8 L753.2,1628.7 L752.8,1627.3 L704.5,1639.2 Z"/>
<path d="M840.0,1659.1 L789.0,1661.3 L789.0,1662.7 L840.0,1662.9 Z"/>
<path d="M707.5,1695.8 L755.8,1708.7 L756.2,1707.3 L708.5,1692.2 Z"/>
</g>

</svg>
</body></html>
